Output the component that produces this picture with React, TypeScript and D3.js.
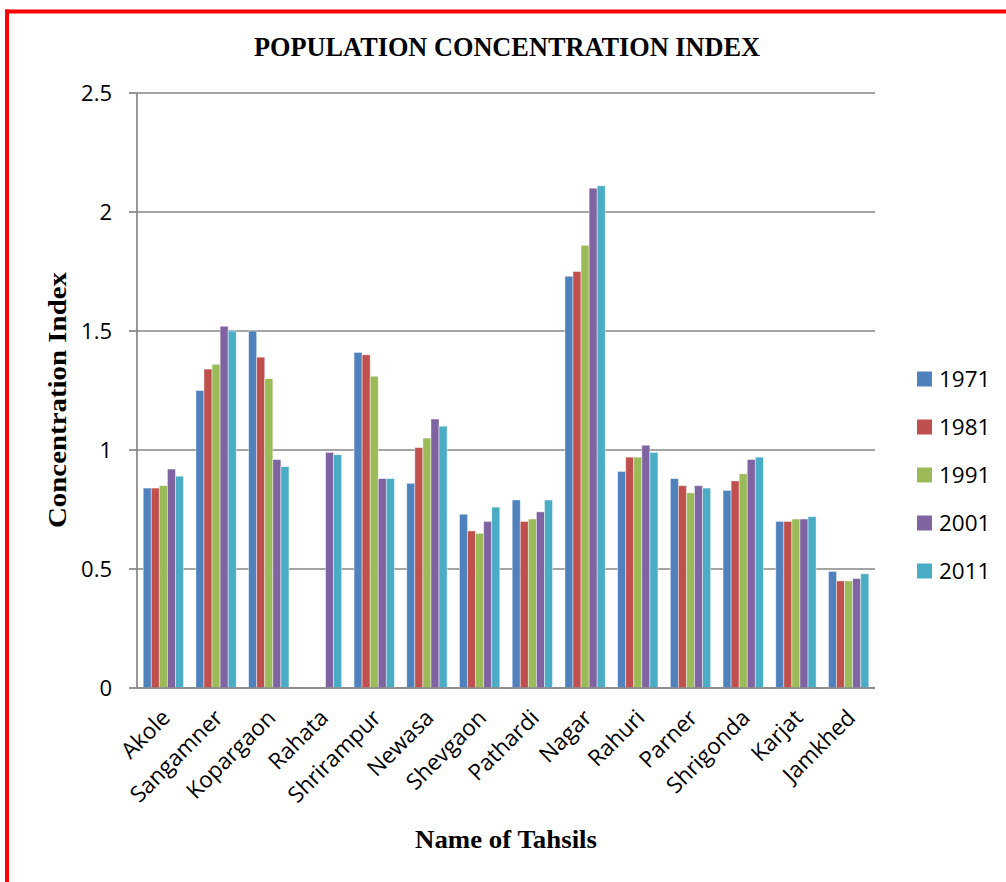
import React from "react";
import * as d3 from "d3";

const categories = ["Akole", "Sangamner", "Kopargaon", "Rahata", "Shrirampur", "Newasa", "Shevgaon", "Pathardi", "Nagar", "Rahuri", "Parner", "Shrigonda", "Karjat", "Jamkhed"];
const seriesNames = ["1971", "1981", "1991", "2001", "2011"];
const v1971 = [0.84, 1.25, 1.50, 0, 1.41, 0.86, 0.73, 0.79, 1.73, 0.91, 0.88, 0.83, 0.70, 0.49];
const v1981 = [0.84, 1.34, 1.39, 0, 1.40, 1.01, 0.66, 0.70, 1.75, 0.97, 0.85, 0.87, 0.70, 0.45];
const v1991 = [0.85, 1.36, 1.30, 0, 1.31, 1.05, 0.65, 0.71, 1.86, 0.97, 0.82, 0.90, 0.71, 0.45];
const v2001 = [0.92, 1.52, 0.96, 0.99, 0.88, 1.13, 0.70, 0.74, 2.10, 1.02, 0.85, 0.96, 0.71, 0.46];
const v2011 = [0.89, 1.50, 0.93, 0.98, 0.88, 1.10, 0.76, 0.79, 2.11, 0.99, 0.84, 0.97, 0.72, 0.48];
const seriesValues = [v1971, v1981, v1991, v2001, v2011];
const colors = ["#4F81BD", "#C0504D", "#9BBB59", "#8064A2", "#4BACC6"];
const yTicks = [0, 0.5, 1, 1.5, 2, 2.5];

const W = 1006, H = 882;
const plotL = 137, plotR = 875, plotT = 93, plotB = 688;
const sans = "'Open Sans', sans-serif";
const serif = "'Liberation Serif', 'Times New Roman', serif";

export default function App() {
  const y = d3.scaleLinear().domain([0, 2.5]).range([plotB, plotT]);
  const x0 = d3.scaleBand<string>().domain(categories).range([plotL, plotR]).paddingInner(0.235).paddingOuter(0.1175);
  const x1 = d3.scaleBand<string>().domain(seriesNames).range([0, x0.bandwidth()]);
  const grid = "#868686";
  return (
    <svg width={W} height={H} style={{ position: "absolute", left: 0, top: 0, background: "#fff" }}>
      <rect x={0} y={0} width={W} height={H} fill="#fff" />
      <rect x={5} y={9.5} width={4} height={H} fill="#FF0000" />
      <rect x={5} y={9.5} width={W} height={4} fill="#FF0000" />
      <text x={507} y={56} textAnchor="middle" fontFamily={serif} fontWeight="bold" fontSize={27.5} textLength={506} lengthAdjust="spacingAndGlyphs">POPULATION CONCENTRATION INDEX</text>
      {yTicks.map((t) => (
        <g key={t}>
          <line x1={plotL} x2={plotR} y1={y(t)} y2={y(t)} stroke={grid} strokeWidth={1.7} />
          <line x1={plotL - 8} x2={plotL} y1={y(t)} y2={y(t)} stroke={grid} strokeWidth={1.7} />
          <text x={112} y={y(t)} dy="0.36em" textAnchor="end" fontFamily={sans} fontSize={22} fill="#000">{String(t)}</text>
        </g>
      ))}
      <line x1={plotL} x2={plotL} y1={plotT} y2={plotB} stroke={grid} strokeWidth={1.7} />
      {seriesNames.map((s, si) => (
        <g key={s}>
          {categories.map((c, ci) => {
            const v = seriesValues[si][ci];
            if (!v) return null;
            return (
              <rect key={c} x={(x0(c) || 0) + (x1(s) || 0)} y={y(v)} width={x1.bandwidth()} height={y(0) - y(v)} fill={colors[si]} stroke="rgba(255,255,255,0.55)" strokeWidth={0.8} />
            );
          })}
        </g>
      ))}
      <line x1={plotL} x2={plotR} y1={plotB} y2={plotB} stroke={grid} strokeWidth={1.7} />
      {categories.map((c) => {
        const cx = (x0(c) || 0) + x0.bandwidth() / 2;
        return (
          <text key={c} transform={`translate(${cx - 3},${plotB + 20}) rotate(-45)`} textAnchor="end" dy="0.7em" fontFamily={sans} fontSize={22.5} fill="#000">{c}</text>
        );
      })}
      <text transform={`translate(66,400) rotate(-90)`} textAnchor="middle" fontFamily={serif} fontWeight="bold" fontSize={26} textLength={256} lengthAdjust="spacingAndGlyphs">Concentration Index</text>
      <text x={506} y={848} textAnchor="middle" fontFamily={serif} fontWeight="bold" fontSize={26} textLength={182} lengthAdjust="spacingAndGlyphs">Name of Tahsils</text>
      {seriesNames.map((s, i) => (
        <g key={s} transform={`translate(917,${379 + i * 48})`}>
          <rect x={0} y={-7.5} width={15} height={15} fill={colors[i]} />
          <text x={22} y={0} dy="0.36em" fontFamily={sans} fontSize={22.5} fill="#000">{s}</text>
        </g>
      ))}
    </svg>
  );
}
